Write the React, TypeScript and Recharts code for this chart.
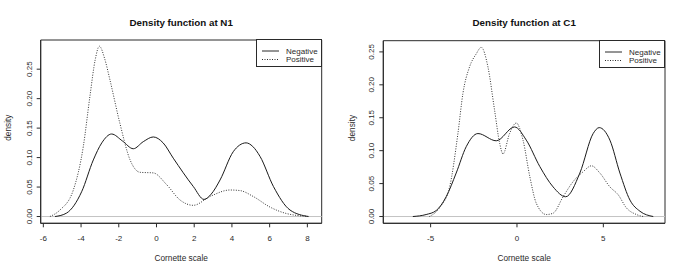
import React from 'react';
import { LineChart, Line, XAxis, YAxis, ReferenceLine, ReferenceArea, Legend } from 'recharts';

// N1 panel
const n1NegX = [-5.38, -4.76, -3.97, -3.35, -2.9, -2.38, -1.8, -1.23, -0.7, -0.17, 0.35, 0.89, 1.95, 2.52, 2.9, 3.37, 4.07, 4.4, 4.75, 5.1, 5.49, 6.2, 7.08, 8.05];
const n1NegY = [0, 0.006, 0.042, 0.096, 0.125, 0.14, 0.128, 0.115, 0.127, 0.135, 0.125, 0.099, 0.051, 0.029, 0.038, 0.062, 0.11, 0.121, 0.125, 0.119, 0.102, 0.051, 0.011, 0];
const n1PosX = [-5.65, -5.12, -4.41, -3.88, -3.53, -3.25, -3.03, -2.75, -2.47, -1.94, -1.4, -0.87, -0.17, 0.54, 1.25, 1.95, 2.84, 3.9, 4.43, 5.13, 6.02, 6.9, 8.14];
const n1PosY = [0, 0.011, 0.045, 0.119, 0.204, 0.266, 0.289, 0.268, 0.232, 0.158, 0.096, 0.075, 0.074, 0.054, 0.028, 0.019, 0.034, 0.045, 0.044, 0.034, 0.016, 0.005, 0];

// C1 panel
const c1NegX = [-6.03, -5.26, -4.68, -4.1, -3.52, -2.94, -2.26, -1.2, -0.14, 0.54, 1.32, 2.09, 2.82, 3.64, 4.41, 4.76, 5.38, 5.96, 6.54, 7.12, 7.89];
const c1NegY = [0, 0.003, 0.009, 0.03, 0.066, 0.106, 0.126, 0.115, 0.136, 0.116, 0.076, 0.045, 0.03, 0.066, 0.126, 0.135, 0.116, 0.066, 0.025, 0.008, 0];
const c1PosX = [-5.07, -4.49, -3.9, -3.42, -3.13, -2.75, -2.36, -2.07, -1.68, -1.3, -1.0, -0.81, -0.43, -0.04, 0.35, 0.74, 1.12, 1.7, 2.09, 2.67, 3.25, 3.83, 4.31, 4.8, 5.38, 5.86, 6.34, 6.92, 7.31];
const c1PosY = [0, 0.013, 0.045, 0.126, 0.187, 0.227, 0.247, 0.257, 0.227, 0.162, 0.111, 0.095, 0.126, 0.142, 0.116, 0.061, 0.02, 0.003, 0.005, 0.03, 0.053, 0.068, 0.077, 0.066, 0.045, 0.033, 0.013, 0.003, 0];

const n1XTicks = [-6, -4, -2, 0, 2, 4, 6, 8];
const c1XTicks = [-5, 0, 5];
const yTicks = [0, 0.05, 0.1, 0.15, 0.2, 0.25];
const seriesNames = ['Negative', 'Positive'];

const zip = (xs: number[], ys: number[]) => xs.map((x, i) => ({ x, y: ys[i] }));

const FONT = '"Liberation Sans", Arial, sans-serif';
const INK = '#2a2a2a';

const YTick = (p: any) => (
  <text
    x={p.x}
    y={p.y}
    transform={`rotate(-90 ${p.x} ${p.y})`}
    textAnchor="middle"
    fontSize={8}
    fontFamily={FONT}
    fill={INK}
  >
    {Number(p.payload.value).toFixed(2)}
  </text>
);

const LegendBox = () => (
  <svg width={66} height={28} style={{ display: 'block' }}>
    <rect x={0.5} y={0.5} width={65} height={27} fill="#fff" stroke={INK} />
    <line x1={6} x2={23} y1={12} y2={12} stroke={INK} />
    <line x1={6} x2={23} y1={20.5} y2={20.5} stroke={INK} strokeDasharray="1 1.5" />
    <text x={30} y={12} dominantBaseline="central" fontSize={8} fontFamily={FONT} fill={INK}>{seriesNames[0]}</text>
    <text x={30} y={20.5} dominantBaseline="central" fontSize={8} fontFamily={FONT} fill={INK}>{seriesNames[1]}</text>
  </svg>
);

interface PanelProps {
  title: string;
  neg: { x: number; y: number }[];
  pos: { x: number; y: number }[];
  xDomain: [number, number];
  yDomain: [number, number];
  xTicks: number[];
  width: number;
  left: number;
  yAxisWidth: number;
  marginTop: number;
  marginRight: number;
}

const DensityPanel: React.FC<PanelProps> = (p) => (
  <div style={{ position: 'absolute', left: p.left, top: 0 }}>
    <LineChart width={p.width} height={274} margin={{ top: p.marginTop, right: p.marginRight, bottom: 0, left: 0 }}>
      <XAxis
        dataKey="x"
        type="number"
        domain={p.xDomain}
        allowDataOverflow
        ticks={p.xTicks}
        height={274 - 223.3}
        stroke={INK}
        tickSize={4}
        tickMargin={8}
        tick={{ fontSize: 8, fontFamily: FONT, fill: INK }}
        label={{
          content: (lp: any) => {
            const vb = lp.viewBox;
            return (
              <text x={vb.x + vb.width / 2} y={vb.y + 35} dominantBaseline="central" textAnchor="middle" fontSize={8.3} fontFamily={FONT} fill={INK}>
                Cornette scale
              </text>
            );
          },
        }}
      />
      <YAxis
        type="number"
        domain={p.yDomain}
        allowDataOverflow
        ticks={yTicks}
        width={p.yAxisWidth}
        stroke={INK}
        tickSize={4}
        tickMargin={5}
        tick={<YTick />}
        label={{
          content: (lp: any) => {
            const vb = lp.viewBox;
            const cy = vb.y + vb.height / 2 - 4;
            const cx = vb.x + 8.5;
            return (
              <text x={cx} y={cy} transform={`rotate(-90 ${cx} ${cy})`} dominantBaseline="central" textAnchor="middle" fontSize={8.3} fontFamily={FONT} fill={INK}>
                density
              </text>
            );
          },
        }}
      />
      <ReferenceLine y={0} stroke="#c4c4c4" />
      <ReferenceArea
        x1={p.xDomain[0]}
        x2={p.xDomain[1]}
        y1={p.yDomain[0]}
        y2={p.yDomain[1]}
        fill="none"
        fillOpacity={0}
        stroke={INK}
        strokeOpacity={1}
        ifOverflow="visible"
        label={{
          content: (lp: any) => {
            const vb = lp.viewBox;
            return (
              <text x={vb.x + vb.width / 2} y={vb.y - 18} dominantBaseline="central" textAnchor="middle" fontSize={9.8} fontWeight="bold" fontFamily={FONT} fill="#111">
                {p.title}
              </text>
            );
          },
        }}
      />
      <Line data={p.neg} dataKey="y" name={seriesNames[0]} type="monotone" stroke="#1a1a1a" strokeWidth={1} dot={false} isAnimationActive={false} />
      <Line data={p.pos} dataKey="y" name={seriesNames[1]} type="monotone" stroke="#333" strokeWidth={1} strokeDasharray="1 1.5" dot={false} isAnimationActive={false} />
      <Legend
        layout="vertical"
        align="center"
        verticalAlign="middle"
        content={<LegendBox />}
        wrapperStyle={{ top: p.marginTop - 1, right: p.marginRight, width: 66, height: 28 }}
      />
    </LineChart>
  </div>
);

export default function App() {
  return (
    <div style={{ position: 'absolute', left: 0, top: 0, width: 685, height: 274, background: '#fff', fontFamily: FONT }}>
      <DensityPanel
        title="Density function at N1"
        neg={zip(n1NegX, n1NegY)}
        pos={zip(n1PosX, n1PosY)}
        xDomain={[-6.14, 8.76]}
        yDomain={[-0.0115, 0.2995]}
        xTicks={n1XTicks}
        width={343}
        left={0}
        yAxisWidth={40.7}
        marginTop={40}
        marginRight={21.3}
      />
      <DensityPanel
        title="Density function at C1"
        neg={zip(c1NegX, c1NegY)}
        pos={zip(c1PosX, c1PosY)}
        xDomain={[-7.74, 8.57]}
        yDomain={[-0.0103, 0.267]}
        xTicks={c1XTicks}
        width={342}
        left={343}
        yAxisWidth={40.3}
        marginTop={40.7}
        marginRight={20}
      />
    </div>
  );
}
